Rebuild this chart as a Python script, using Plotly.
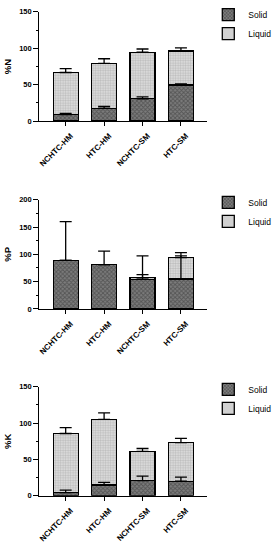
import plotly.graph_objects as go

categories = ["NCHTC-HM", "HTC-HM", "NCHTC-SM", "HTC-SM"]

n_solid = [9, 17.6, 30.6, 49.5]
n_solid_err = [1.5, 2.5, 2.5, 1.5]
n_liquid = [57.7, 61.7, 64.0, 46.9]
n_liquid_err = [5.3, 6.3, 4.4, 4.0]

p_solid = [89, 81, 54, 55]
p_solid_err = [71, 25, 43, 42]
p_liquid = [0, 0, 3, 39]
p_liquid_err = [0, 0, 6, 9]

k_solid = [4.5, 14.9, 21, 20]
k_solid_err = [3.2, 3.6, 6, 5.7]
k_liquid = [81.1, 90.1, 40, 53]
k_liquid_err = [8.1, 9, 4, 6]

panels = [
    ("%N", n_solid, n_solid_err, n_liquid, n_liquid_err, [0, 150], [0, 50, 100, 150]),
    ("%P", p_solid, p_solid_err, p_liquid, p_liquid_err, [0, 200], [0, 50, 100, 150, 200]),
    ("%K", k_solid, k_solid_err, k_liquid, k_liquid_err, [0, 150], [0, 50, 100, 150]),
]

W, H = 280, 550
ypix = [(8, 119), (199, 310), (389, 500)]
xdom = [38.5 / W, 207 / W]

solid_pattern = dict(shape="x", fgcolor="#2e2e2e", bgcolor="#7c7c7c", size=3, solidity=0.5)
liquid_pattern = dict(shape=".", fgcolor="#999999", bgcolor="#e0e0e0", size=2.5, solidity=0.5)

fig = go.Figure()
tickfont = dict(family="Liberation Sans", size=7.5, color="black", weight="bold")
err_style = dict(color="black", thickness=1.3, width=6)

for i, (title, s, se, l, le, yr, yt) in enumerate(panels):
    sfx = "" if i == 0 else str(i + 1)
    xa, ya = "x" + sfx, "y" + sfx
    lg = "legend" + sfx
    fig.add_trace(go.Bar(
        x=categories, y=s, name="Solid", xaxis=xa, yaxis=ya, legend=lg, width=0.65,
        marker=dict(color="#7c7c7c", pattern=solid_pattern, line=dict(color="black", width=1.3)),
    ))
    fig.add_trace(go.Bar(
        x=categories, y=l, name="Liquid", xaxis=xa, yaxis=ya, legend=lg, width=0.65,
        marker=dict(color="#e0e0e0", pattern=liquid_pattern, line=dict(color="black", width=1.3)),
    ))
    tops = [a + b for a, b in zip(s, l)]
    fig.add_trace(go.Scatter(
        x=categories, y=s, mode="markers", marker=dict(size=0.1, color="black"),
        xaxis=xa, yaxis=ya, showlegend=False, hoverinfo="skip",
        error_y=dict(type="data", array=se, arrayminus=[0] * 4, symmetric=False, **err_style),
    ))
    fig.add_trace(go.Scatter(
        x=categories, y=tops, mode="markers", marker=dict(size=0.1, color="black"),
        xaxis=xa, yaxis=ya, showlegend=False, hoverinfo="skip",
        error_y=dict(type="data", array=le, arrayminus=[0] * 4, symmetric=False, **err_style),
    ))
    top, bot = ypix[i]
    dom = [1 - bot / H, 1 - top / H]
    fig.layout["xaxis" + sfx] = dict(
        domain=xdom, anchor=ya, range=[-0.685, 3.685], type="category",
        showline=True, linecolor="black", linewidth=1.3, ticks="outside", ticklen=4,
        tickwidth=1.2, tickcolor="black", tickangle=-45, tickfont=dict(tickfont, size=8),
        ticklabelshift=5, ticklabelstandoff=2,
        showgrid=False, zeroline=False,
    )
    fig.layout["yaxis" + sfx] = dict(
        domain=dom, anchor=xa, range=yr, tickvals=yt,
        showline=True, linecolor="black", linewidth=1.3, ticks="outside", ticklen=5,
        tickwidth=1.2, tickcolor="black", tickfont=tickfont,
        minor=dict(dtick=25, ticks="outside", ticklen=2.5, tickcolor="black", tickwidth=1.2, showgrid=False),
        title=dict(text=title, font=dict(family="Liberation Sans", size=9.5, color="black", weight="bold"), standoff=5),
        showgrid=False, zeroline=False,
    )
    fig.layout[lg] = dict(
        x=0.743, y=1 - (top - 12) / H, xanchor="left", yanchor="top",
        font=dict(family="Liberation Sans", size=8.5, color="black"),
        bgcolor="rgba(0,0,0,0)", traceorder="normal", itemwidth=30,
    )

fig.update_layout(
    barmode="stack", width=W, height=H, autosize=False,
    margin=dict(l=0, r=0, t=0, b=0),
    paper_bgcolor="white", plot_bgcolor="white",
)

fig.write_html(
    "out.html",
    config={"displayModeBar": False},
    post_script="document.body.style.margin='0';document.body.style.overflow='hidden';",
)
